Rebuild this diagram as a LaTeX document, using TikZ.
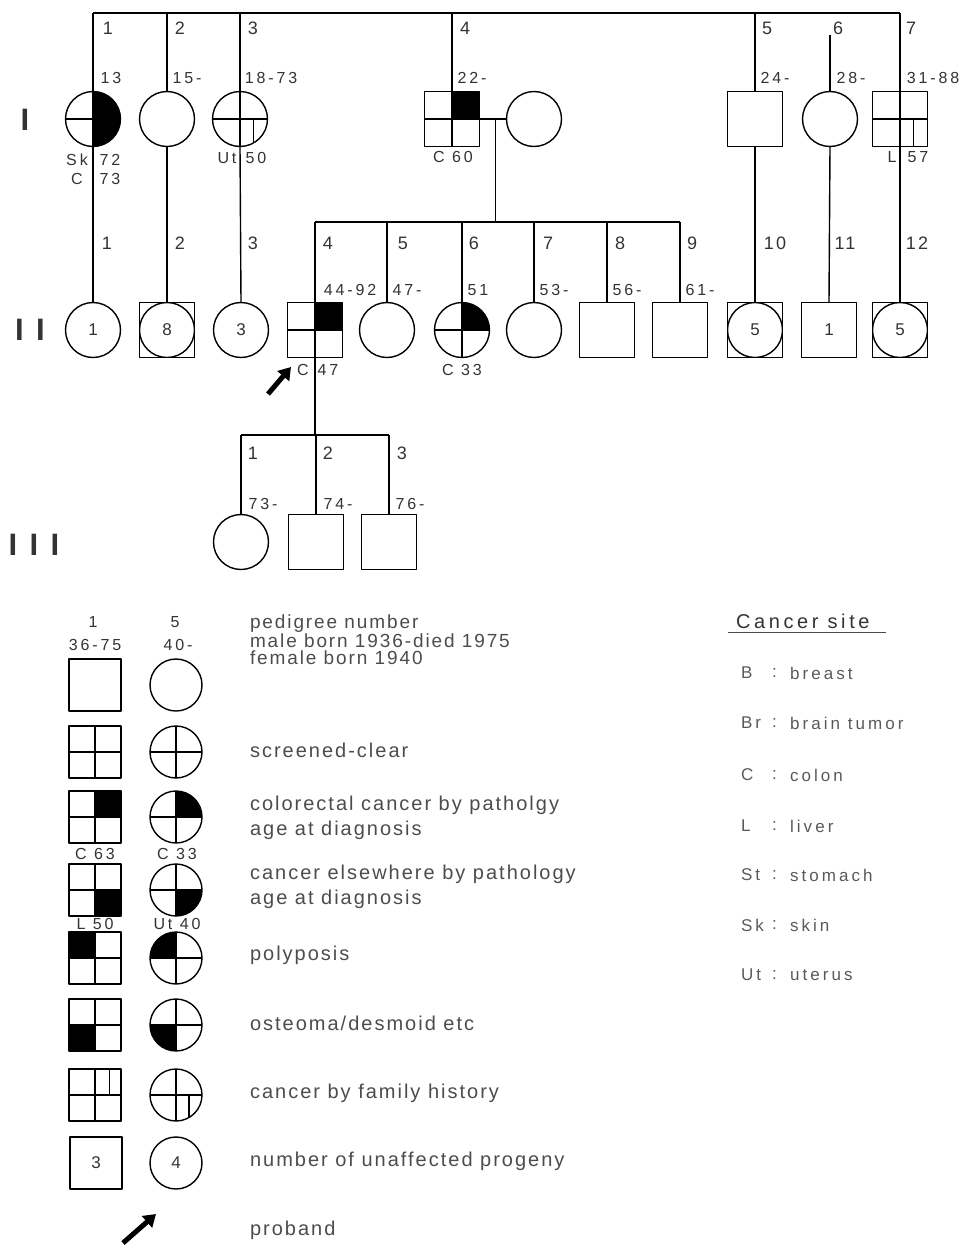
\documentclass[tikz,border=0pt]{standalone}
\usepackage{fontspec}
\setmainfont{Liberation Sans}[LetterSpace=18]
\usetikzlibrary{calc,arrows.meta}

% Quadrant marks, drawn inside a symbol through its path picture.
\newcommand\qcross{%
  \draw (path picture bounding box.north) -- (path picture bounding box.south)
        (path picture bounding box.west) -- (path picture bounding box.east);}
\newcommand\qTR{\fill (path picture bounding box.center) rectangle (path picture bounding box.north east);}
\newcommand\qBR{\fill (path picture bounding box.center) rectangle (path picture bounding box.south east);}
\newcommand\qTL{\fill (path picture bounding box.center) rectangle (path picture bounding box.north west);}
\newcommand\qBL{\fill (path picture bounding box.center) rectangle (path picture bounding box.south west);}
% Cancer by family history: short stroke in a right quadrant.
\newcommand\qfamB{\draw ($(path picture bounding box.center)!0.5!(path picture bounding box.east)$)
  -- ($(path picture bounding box.south)!0.5!(path picture bounding box.south east)$);}
\newcommand\qfamT{\draw ($(path picture bounding box.center)!0.55!(path picture bounding box.east)$)
  -- ($(path picture bounding box.north)!0.55!(path picture bounding box.north east)$);}
% Unaffected progeny of both sexes: circle inside the square.
\newcommand\qring{\draw (path picture bounding box.center) circle[radius=27.5pt];}

\begin{document}
\begin{tikzpicture}[x=1pt,y=-1pt,line join=round,line width=1.4pt,
    every node/.style={text=black!80},
    sym/.style={draw,inner sep=0pt,minimum size=55pt,font=\fontsize{17}{17}\selectfont},
    male/.style={sym,rectangle},
    female/.style={sym,circle},
    small/.style={minimum size=52pt},
    marks/.style={path picture={#1}},
    num/.style={font=\fontsize{18}{18}\selectfont\addfontfeature{LetterSpace=12}},
    year/.style={font=\fontsize{16}{16}\selectfont},
    gen/.style={font=\fontsize{31}{31}\selectfont\bfseries\addfontfeature{LetterSpace=40}},
    key/.style={anchor=west,align=left,text=black!70,
      font=\fontsize{20}{25}\selectfont\addfontfeature{LetterSpace=10}},
    site/.style={anchor=west,text=black!65,font=\fontsize{17}{17}\selectfont},
    proband/.style={line width=5pt,-{Triangle[length=12pt,width=15pt]}}]
  % Keep the original page frame.
  \useasboundingbox (0,0) rectangle (961,1245);

  % Generation labels.
  \node[gen] (gI) at (25,120) {I};
  \node[gen] (gII) at (30,330) {II};
  \node[gen] (gIII) at (34,545) {III};

  % Levels of the sibship lines.
  \coordinate (top) at (0,13);
  \coordinate (sibII) at (0,222);
  \coordinate (sibIII) at (0,435);

  % Generation I.
  \node[female,marks={\qTR\qBR\qcross}] (I1) at (93,119) {};
  \node[female] (I2) at (167,119) {};
  \node[female,marks={\qcross\qfamB}] (I3) at (240,119) {};
  \node[male,marks={\qTR\qcross}] (I4) at (452,119) {};
  \node[female] (I4w) at (534,119) {};
  \node[male] (I5) at (755,119) {};
  \node[female] (I6) at (830,119) {};
  \node[male,marks={\qcross\qfamB}] (I7) at (900,119) {};

  % Generation II.
  \node[female] (II1) at (93,330) {1};
  \node[male,marks={\qring}] (II2) at (167,330) {8};
  \node[female] (II3) at (241,330) {3};
  \node[male,marks={\qTR\qcross}] (II4) at (315,330) {};
  \node[female] (II5) at (387,330) {};
  \node[female,marks={\qTR\qcross}] (II6) at (462,330) {};
  \node[female] (II7) at (534,330) {};
  \node[male] (II8) at (607,330) {};
  \node[male] (II9) at (680,330) {};
  \node[male,marks={\qring}] (II10) at (755,330) {5};
  \node[male] (II11) at (829,330) {1};
  \node[male,marks={\qring}] (II12) at (900,330) {5};

  % Generation III.
  \node[female] (III1) at (241,542) {};
  \node[male] (III2) at (316,542) {};
  \node[male] (III3) at (389,542) {};

  % Lines of descent.
  \draw[line width=2pt] (I1 |- top) -- (I7 |- top);
  \foreach \n in {I1,I2,I3,I4,I5,I7}
    \draw (\n |- top) -- (\n.north);
  \coordinate (cut6) at (830,35);
  \draw (cut6) -- (I6.north);
  \draw (I1.south) -- (II1.north);
  \draw (I2.south) -- (II2.north);
  \draw (I3.south) -- (II3.north);
  \draw (I5.south) -- (II10.north);
  \draw (I6.south) -- (II11.north);
  \draw (I7.south) -- (II12.north);
  \draw (I4.east) -- (I4w.west);
  \coordinate (mate) at ($(I4.east)!0.6!(I4w.west)$);
  \draw (mate) -- (mate |- sibII);
  \draw (II4 |- sibII) -- (II9 |- sibII);
  \foreach \n in {II4,II5,II6,II7,II8,II9}
    \draw (\n |- sibII) -- (\n.north);
  \draw (II4.south) -- (II4 |- sibIII);
  \draw (III1 |- sibIII) -- (III3 |- sibIII);
  \foreach \n in {III1,III2,III3}
    \draw (\n |- sibIII) -- (\n.north);

  % Proband marker.
  \coordinate (pbtail) at (268,394);
  \coordinate (pbtip) at (291,367);
  \draw[proband] (pbtail) -- (pbtip);

  % Pedigree numbers and years.
  \foreach \x/\t [count=\i] in {108/1,180/2,253/3,465/4,767/5,838/6,911/7}
    \node[num] (nI\i) at (\x,28) {\t};
  \foreach \x/\t [count=\i] in {111/13,187/15-,271/18-73,472/22-,775/24-,851/28-,933/31-88}
    \node[year] (aI\i) at (\x,78) {\t};
  \foreach \x/\t [count=\i] in {107/1,180/2,253/3,328/4,403/5,474/6,548/7,620/8,692/9,775/10,845/11,917/12}
    \node[num] (nII\i) at (\x,243) {\t};
  \foreach \x/\t [count=\i] in {350/44-92,407/47-,478/51,554/53-,627/56-,700/61-}
    \node[year] (aII\i) at (\x,290) {\t};
  \foreach \x/\t [count=\i] in {253/1,328/2,402/3}
    \node[num] (nIII\i) at (\x,453) {\t};
  \foreach \x/\t [count=\i] in {263/73-,338/74-,410/76-}
    \node[year] (aIII\i) at (\x,504) {\t};

  % Diagnoses.
  \node[year] (dI1a) at (77,160) {Sk};
  \node[year] (dI1b) at (110,160) {72};
  \node[year] (dI1c) at (77,179) {C};
  \node[year] (dI1d) at (110,179) {73};
  \node[year] (dI3a) at (227,158) {Ut};
  \node[year] (dI3b) at (256,158) {50};
  \node[year] (dI4) at (453,157) {C 60};
  \node[year] (dI7a) at (892,157) {L};
  \node[year] (dI7b) at (918,157) {57};
  \node[year] (dII4a) at (303,370) {C};
  \node[year] (dII4b) at (328,370) {47};
  \node[year] (dII6) at (462,370) {C 33};

  % Key: symbols.
  \node[year] (k1n) at (93,622) {1};
  \node[year] (k2n) at (175,622) {5};
  \node[year] (k1y) at (95,645) {36-75};
  \node[year] (k2y) at (178,645) {40-};
  \node[male,small] (km1) at (95,685) {};
  \node[female,small] (kf1) at (176,685) {};
  \node[male,small,marks={\qcross}] (km2) at (95,752) {};
  \node[female,small,marks={\qcross}] (kf2) at (176,752) {};
  \node[male,small,marks={\qTR\qcross}] (km3) at (95,817) {};
  \node[female,small,marks={\qTR\qcross}] (kf3) at (176,817) {};
  \node[year] (k3d) at (95,854) {C 63};
  \node[year] (k4d) at (177,854) {C 33};
  \node[male,small,marks={\qBR\qcross}] (km4) at (95,890) {};
  \node[female,small,marks={\qBR\qcross}] (kf4) at (176,890) {};
  \node[year] (k5d) at (95,924) {L 50};
  \node[year] (k6d) at (177,924) {Ut 40};
  \node[male,small,marks={\qTL\qcross}] (km5) at (95,958) {};
  \node[female,small,marks={\qTL\qcross}] (kf5) at (176,958) {};
  \node[male,small,marks={\qBL\qcross}] (km6) at (95,1025) {};
  \node[female,small,marks={\qBL\qcross}] (kf6) at (176,1025) {};
  \node[male,small,marks={\qcross\qfamT}] (km7) at (95,1095) {};
  \node[female,small,marks={\qcross\qfamB}] (kf7) at (176,1095) {};
  \node[male,small] (km8) at (96,1163) {3};
  \node[female,small] (kf8) at (176,1163) {4};
  \coordinate (kpbtail) at (123,1243);
  \coordinate (kpbtip) at (156,1214);
  \draw[proband] (kpbtail) -- (kpbtip);

  % Key: meanings.
  \node[key,font=\fontsize{19}{17}\selectfont\addfontfeature{LetterSpace=10}] (t1) at (246,640)
    {pedigree number\\male born 1936-died 1975\\female born 1940};
  \node[key] (t2) at (246,750) {screened-clear};
  \node[key] (t3) at (246,818) {colorectal cancer by patholgy\\age at diagnosis};
  \node[key] (t4) at (246,887) {cancer elsewhere by pathology\\age at diagnosis};
  \node[key] (t5) at (246,955) {polyposis};
  \node[key] (t6) at (246,1023) {osteoma/desmoid etc};
  \node[key] (t7) at (246,1093) {cancer by family history};
  \node[key] (t8) at (246,1161) {number of unaffected progeny};
  \node[key] (t9) at (246,1230) {proband};

  % Cancer sites.
  \node[anchor=west,font=\fontsize{20}{20}\selectfont] (csite) at (732,621) {Cancer site};
  \draw[line width=1pt,black!70] ([xshift=-4pt]csite.south west) -- ([xshift=12pt]csite.south east);
  \foreach \y/\a/\w [count=\i] in {673/B/breast,723/Br/brain tumor,775/C/colon,826/L/liver,
      875/St/stomach,925/Sk/skin,975/Ut/uterus}{
    \node[site] (sa\i) at (737,\y) {\a};
    \node[site] (sc\i) at (768,\y) {:};
    \node[site] (sw\i) at (786,\y) {\w};
  }
\end{tikzpicture}
\end{document}
